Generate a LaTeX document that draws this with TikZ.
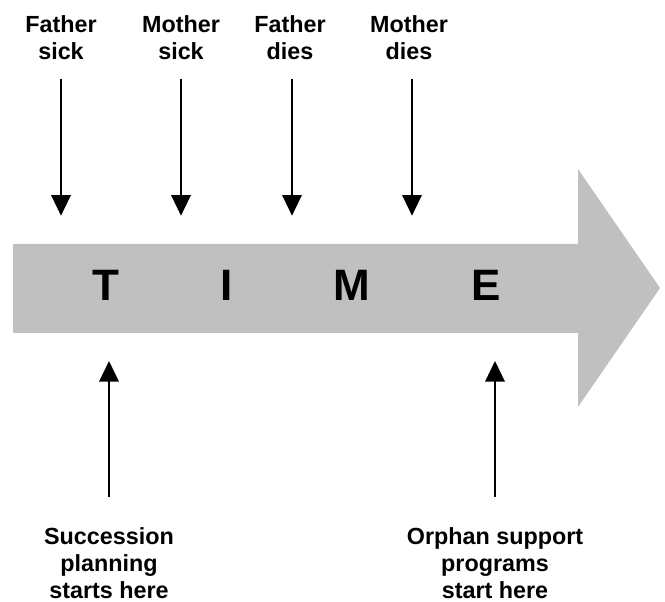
\documentclass[tikz,border=0pt]{standalone}
\usepackage{fontspec}
\setmainfont{Liberation Sans}
\usetikzlibrary{arrows.meta}
\definecolor{timegray}{HTML}{C0C0C0}
\tikzset{
  lbl/.style={font=\fontsize{17.5pt}{20.25pt}\selectfont\bfseries, align=center, inner sep=0pt},
  big/.style={font=\fontsize{33pt}{36pt}\selectfont\bfseries, inner sep=0pt},
  evt/.style={line width=1.5pt, -{Triangle[length=15.5pt,width=14.6pt]}},
}
\begin{document}
\begin{tikzpicture}[x=0.75pt,y=-0.75pt]
\useasboundingbox (0,0) rectangle (665,602);
% time arrow
\fill[timegray] (13,244) -- (578,244) -- (578,169) -- (660,288) -- (578,407) -- (578,333) -- (13,333) -- cycle;
\node[big] (t) at (106,285) {T};
\node[big] (i) at (227,285) {I};
\node[big] (m) at (352,285) {M};
\node[big] (e) at (486,285) {E};
% top events
\node[lbl, anchor=north] (fs) at (61,15.5) {Father\\sick};
\node[lbl, anchor=north] (ms) at (181,15.5) {Mother\\sick};
\node[lbl, anchor=north] (fd) at (290,15.5) {Father\\dies};
\node[lbl, anchor=north] (md) at (409,15.5) {Mother\\dies};
\coordinate (fsT) at (61,215.7);
\coordinate (msT) at (181,215.7);
\coordinate (fdT) at (292,215.7);
\coordinate (mdT) at (412,215.7);
\foreach \n/\c in {fs/fsT, ms/msT, fd/fdT, md/mdT}
  \draw[evt] (\c |- 0,79) -- (\c);
% bottom
\node[lbl, anchor=north] (sp) at (109,527.5) {Succession\\planning\\starts here};
\node[lbl, anchor=north] (os) at (495,527.5) {Orphan support\\programs\\start here};
\coordinate (spT) at (109,361);
\coordinate (osT) at (495,361);
\draw[evt] (spT |- 0,497) -- (spT);
\draw[evt] (osT |- 0,497) -- (osT);
\end{tikzpicture}
\end{document}
